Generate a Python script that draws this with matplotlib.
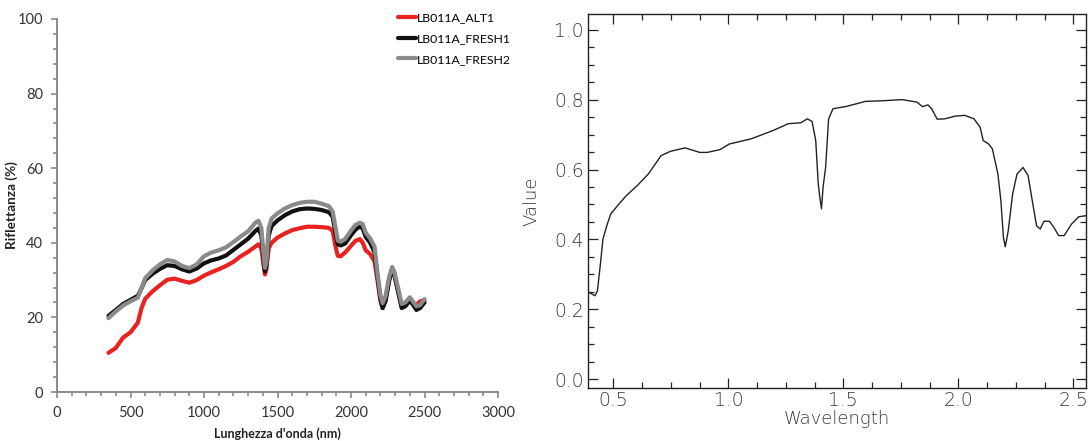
import numpy as np
import matplotlib
matplotlib.use("Agg")
import matplotlib.pyplot as plt
from matplotlib.ticker import MultipleLocator

# ---- reflectance spectra (left panel) ----
wavelength_nm = [350, 400, 450, 500, 550, 575, 600, 650, 700, 750, 800, 850, 900, 950,
                 1000, 1050, 1100, 1150, 1200, 1250, 1300, 1350, 1370, 1390, 1405, 1415,
                 1425, 1440, 1460, 1500, 1550, 1600, 1650, 1700, 1750, 1800, 1850, 1875,
                 1895, 1910, 1930, 1960, 2000, 2030, 2060, 2080, 2100, 2130, 2160, 2180,
                 2200, 2215, 2235, 2260, 2280, 2295, 2320, 2345, 2370, 2400, 2420, 2445,
                 2470, 2500]

alt1 = [10.5, 11.8, 14.6, 16.0, 18.6, 22.5, 25.0, 27.0, 28.6, 30.1, 30.4, 29.8, 29.3, 30.0,
        31.2, 32.1, 32.9, 33.8, 34.9, 36.4, 37.6, 39.0, 39.6, 38.5, 34.0, 31.5,
        33.0, 38.5, 40.0, 41.4, 42.5, 43.4, 43.9, 44.3, 44.3, 44.2, 44.0, 43.2,
        39.0, 36.5, 36.4, 37.4, 39.2, 40.5, 41.0, 40.0, 38.0, 37.0, 35.0, 30.0,
        24.5, 22.5, 24.5, 30.0, 32.8, 31.5, 27.0, 22.8, 23.2, 24.6, 23.8, 23.3,
        24.3, 24.6]

fresh1 = [20.4, 22.0, 23.6, 24.7, 25.8, 27.8, 30.0, 31.7, 33.0, 34.0, 33.8, 32.9, 32.3, 33.1,
          34.5, 35.3, 35.8, 36.6, 38.1, 39.6, 41.1, 43.2, 43.8, 42.0, 36.0, 32.3,
          34.0, 42.0, 44.5, 46.0, 47.4, 48.4, 49.0, 49.2, 49.1, 48.8, 48.2, 47.0,
          42.5, 39.6, 39.3, 39.8, 42.0, 43.5, 44.4, 43.8, 41.6, 40.0, 37.5, 31.0,
          25.0, 22.5, 24.5, 30.0, 32.8, 31.5, 27.0, 22.5, 23.0, 24.5, 23.5, 22.0,
          22.5, 24.0]

fresh2 = [19.8, 21.6, 23.2, 24.3, 25.3, 27.8, 30.5, 32.6, 34.2, 35.4, 35.0, 33.8, 33.2, 34.2,
          36.4, 37.4, 38.0, 38.8, 40.2, 41.7, 43.1, 45.4, 45.9, 44.0, 37.0, 33.3,
          35.0, 44.0, 46.5, 47.9, 49.2, 50.1, 50.7, 51.0, 51.0, 50.5, 49.8, 48.4,
          44.0, 40.6, 40.3, 41.0, 43.3, 44.8, 45.4, 45.0, 42.7, 41.2, 39.0, 32.0,
          26.0, 23.8, 25.8, 31.0, 33.5, 32.2, 28.0, 23.6, 24.0, 25.4, 24.3, 23.0,
          23.3, 24.9]

series_names = ["LB011A_ALT1", "LB011A_FRESH1", "LB011A_FRESH2"]
series_colors = ["#e8231f", "#111111", "#8a8a8a"]

# ---- library spectrum (right panel) ----
wavelength_um = [0.396, 0.420, 0.431, 0.444, 0.455, 0.473, 0.489, 0.524, 0.556, 0.604,
                 0.652, 0.708, 0.748, 0.812, 0.876, 0.908, 0.964, 1.004, 1.100, 1.196,
                 1.260, 1.316, 1.343, 1.364, 1.380, 1.391, 1.398, 1.405, 1.412, 1.423,
                 1.436, 1.455, 1.516, 1.596, 1.676, 1.756, 1.820, 1.844, 1.868, 1.884,
                 1.908, 1.940, 1.988, 2.028, 2.068, 2.095, 2.108, 2.132, 2.148, 2.172,
                 2.185, 2.196, 2.204, 2.217, 2.236, 2.255, 2.281, 2.303, 2.324, 2.340,
                 2.356, 2.372, 2.396, 2.415, 2.436, 2.460, 2.492, 2.524, 2.556]
value = [0.248, 0.239, 0.253, 0.330, 0.401, 0.442, 0.473, 0.501, 0.525, 0.554,
         0.587, 0.640, 0.652, 0.662, 0.649, 0.649, 0.657, 0.673, 0.688, 0.712,
         0.731, 0.734, 0.745, 0.738, 0.683, 0.559, 0.520, 0.488, 0.550, 0.606,
         0.745, 0.774, 0.781, 0.795, 0.797, 0.800, 0.793, 0.780, 0.785, 0.774,
         0.744, 0.745, 0.753, 0.755, 0.745, 0.721, 0.683, 0.673, 0.659, 0.587,
         0.511, 0.406, 0.379, 0.425, 0.530, 0.587, 0.606, 0.583, 0.501, 0.439,
         0.430, 0.452, 0.452, 0.435, 0.411, 0.411, 0.444, 0.465, 0.468]

W, H = 1092, 441
fig = plt.figure(figsize=(W / 100, H / 100), dpi=100)
fig.patch.set_facecolor("white")

# ---------- left panel ----------
ax1 = fig.add_axes([57 / W, 1 - 392 / H, 441 / W, 373 / H])
for ys, name, col in zip([alt1, fresh1, fresh2], series_names, series_colors):
    ax1.plot(wavelength_nm, ys, color=col, lw=3.0, label=name,
             solid_joinstyle="round", solid_capstyle="round")
ax1.set_xlim(0, 3000)
ax1.set_ylim(0, 100)
ax1.xaxis.set_major_locator(MultipleLocator(500))
ax1.xaxis.set_minor_locator(MultipleLocator(100))
ax1.yaxis.set_major_locator(MultipleLocator(20))
ax1.yaxis.set_minor_locator(MultipleLocator(4))
axis_gray = "#8a8a8a"
for side in ["top", "right"]:
    ax1.spines[side].set_visible(False)
for side in ["left", "bottom"]:
    ax1.spines[side].set_color(axis_gray)
    ax1.spines[side].set_linewidth(1.4)
ax1.tick_params(which="both", direction="out", color=axis_gray, width=1.2,
                labelsize=10.5, labelcolor="#333333")
ax1.tick_params(which="major", length=4, pad=6)
ax1.tick_params(which="minor", length=3)
for lab in ax1.get_xticklabels() + ax1.get_yticklabels():
    lab.set_fontfamily("Lato")
ax1.set_xlabel("Lunghezza d'onda (nm)", fontfamily="Lato", fontweight="bold",
               fontsize=9, color="#222222", labelpad=5)
ax1.set_ylabel("Riflettanza (%)", fontfamily="Lato", fontweight="bold",
               fontsize=9.8, color="#222222")
ax1.yaxis.set_label_coords(-0.088, 0.5)
ax1.legend(loc="upper left", bbox_to_anchor=(392 / W, 1 - 6 / H),
           bbox_transform=fig.transFigure, frameon=False, borderpad=0,
           handlelength=1.5, handletextpad=0.05, labelspacing=0.8,
           prop={"family": "Lato", "size": 8.8})

# ---------- right panel ----------
ink = "#222222"
txt = "#3a3a3a"
ax2 = fig.add_axes([588 / W, 1 - 388 / H, 498 / W, 374 / H])
ax2.plot(wavelength_um, value, color=ink, lw=1.0)
ax2.set_xlim(0.39, 2.555)
ax2.set_ylim(-0.025, 1.045)
ax2.xaxis.set_major_locator(MultipleLocator(0.5))
ax2.xaxis.set_minor_locator(MultipleLocator(0.125))
ax2.yaxis.set_major_locator(MultipleLocator(0.2))
ax2.yaxis.set_minor_locator(MultipleLocator(0.05))
for side in ax2.spines:
    ax2.spines[side].set_color(ink)
    ax2.spines[side].set_linewidth(1.0)
ax2.tick_params(which="both", direction="in", top=True, right=True,
                color=ink, width=0.9, labelsize=13.5, labelcolor=txt)
ax2.tick_params(which="major", length=7, pad=3)
ax2.tick_params(which="minor", length=4)
ax2.tick_params(axis="x", which="major", pad=2)
ax2.xaxis.set_major_formatter(plt.FuncFormatter(lambda v, p: f"{v:.1f}"))
ax2.yaxis.set_major_formatter(plt.FuncFormatter(lambda v, p: f"{abs(v):.1f}"))
for lab in ax2.get_xticklabels() + ax2.get_yticklabels():
    lab.set_fontfamily("DejaVu Sans")
    lab.set_fontweight("light")
ax2.set_xlabel("Wavelength", fontfamily="DejaVu Sans", fontweight="light",
               fontsize=13, color=txt, labelpad=0)
ax2.set_ylabel("Value", fontfamily="DejaVu Sans", fontweight="light",
               fontsize=13, color=txt, labelpad=10)

fig.savefig("out.png", dpi=100, facecolor="white")
